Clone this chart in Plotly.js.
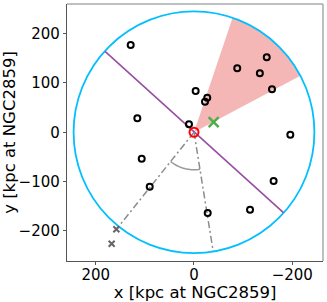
<!DOCTYPE html>
<html><head><meta charset="utf-8">
<script src="https://cdn.plot.ly/plotly-3.0.1.min.js"></script>
<style>html,body{margin:0;padding:0;background:#fff}#plot{width:327px;height:302px}</style>
</head><body><div id="plot"></div>
<script>
// satellites (open black circles)
const satX = [128.8, 115.3, -3.4, -27, -22.4, 10.2, -88, -134, -148, -158.7, -196, 106.4, 90.1, -27.9, -114, -162];
const satY = [177, 28.4, 83.8, 70, 62, 16.2, 129.8, 119.7, 152, 87.2, -4.9, -53.5, -110.3, -163.7, -157, -98.8];
// distant objects (gray crosses)
const farX = [158, 167.5];
const farY = [-196.8, -226];
// green cross
const greenX = [-40];
const greenY = [20.3];
// host at origin
const hostX = [0];
const hostY = [0];
// major axis line endpoints
const axisLineX = [181, -182];
const axisLineY = [164, -163];
// sight lines from origin
const line1X = [0, 158], line1Y = [0, -197];
const line2X = [0, -39], line2Y = [0, -241];
// wedge angles (deg), circle radius, arc radius
const wedgeAngles = [108.7, 152.1];
const circleRadius = 245;
const arcRadius = 76;

function arcPath(r, a0, a1, n, closeToOrigin) {
  let p = closeToOrigin ? 'M 0 0 ' : '';
  for (let i = 0; i <= n; i++) {
    const a = (a0 + (a1 - a0) * i / n) * Math.PI / 180;
    const x = r * Math.cos(a), y = r * Math.sin(a);
    p += (i === 0 && !closeToOrigin ? 'M ' : 'L ') + x.toFixed(2) + ' ' + y.toFixed(2) + ' ';
  }
  if (closeToOrigin) p += 'Z';
  return p;
}
const ang1 = Math.atan2(line1Y[1], line1X[1]) * 180 / Math.PI;
const ang2 = Math.atan2(line2Y[1], line2X[1]) * 180 / Math.PI;

const gray = '#8c8c8c';
const traces = [
  {x: axisLineX, y: axisLineY, mode: 'lines', line: {color: '#984ea3', width: 1.6}, hoverinfo: 'skip'},
  {x: line1X, y: line1Y, mode: 'lines', line: {color: gray, width: 1.5, dash: '7px,3px,2px,3px'}},
  {x: line2X, y: line2Y, mode: 'lines', line: {color: gray, width: 1.5, dash: '7px,3px,2px,3px'}},
  {x: satX, y: satY, mode: 'markers', marker: {symbol: 'circle-open', size: 6, color: '#000', line: {width: 2, color: '#000'}}},
  {x: farX, y: farY, mode: 'markers', marker: {symbol: 'x-thin-open', size: 6, color: '#666', line: {width: 2, color: '#666'}}},
  {x: greenX, y: greenY, mode: 'markers', marker: {symbol: 'x-thin-open', size: 10, color: '#4daf4a', line: {width: 2.5, color: '#4daf4a'}}},
  {x: hostX, y: hostY, mode: 'markers', marker: {symbol: 'circle-open', size: 9, color: '#ff0000', line: {width: 2, color: '#ff0000'}}}
];

const layout = {
  width: 327, height: 302,
  margin: {l: 67, r: 4, t: 4, b: 41},
  paper_bgcolor: '#fff', plot_bgcolor: '#fff',
  showlegend: false,
  font: {family: 'DejaVu Sans', size: 15, color: '#000'},
  xaxis: {
    range: [258.4, -262.5], tickvals: [200, 0, -200], showgrid: false, zeroline: false,
    showline: true, linecolor: '#555', linewidth: 1.2, ticks: 'outside', ticklen: 3, tickcolor: '#555',
    ticklabelstandoff: -3,
    tickfont: {size: 15}, title: {text: 'x [kpc at NGC2859]', font: {size: 16.5}, standoff: 2}
  },
  yaxis: {
    range: [-261, 260], tickvals: [-200, -100, 0, 100, 200], showgrid: false, zeroline: false,
    showline: true, linecolor: '#555', linewidth: 1.2, ticks: 'outside', ticklen: 3, tickcolor: '#555',
    tickfont: {size: 15}, title: {text: 'y [kpc at NGC2859]', font: {size: 16.5}, standoff: 6}
  },
  shapes: [
    {type: 'path', xref: 'x', yref: 'y', layer: 'below', path: arcPath(circleRadius, wedgeAngles[0], wedgeAngles[1], 40, true),
     fillcolor: 'rgb(245,182,182)', line: {width: 0}},
    {type: 'circle', xref: 'x', yref: 'y', layer: 'below', x0: -circleRadius, x1: circleRadius, y0: -circleRadius, y1: circleRadius,
     line: {color: '#00bfff', width: 1.8}},
    {type: 'path', xref: 'x', yref: 'y', layer: 'below', path: arcPath(arcRadius, ang1, ang2, 30, false),
     line: {color: '#999', width: 1.5}},
    {type: 'line', xref: 'paper', yref: 'paper', x0: 0, x1: 1, y0: 1, y1: 1, line: {color: '#aaa', width: 1.5}},
    {type: 'line', xref: 'paper', yref: 'paper', x0: 1, x1: 1, y0: 0, y1: 1, line: {color: '#aaa', width: 1.5}}
  ]
};
Plotly.newPlot('plot', traces, layout, {displayModeBar: false, staticPlot: true});
</script></body></html>
